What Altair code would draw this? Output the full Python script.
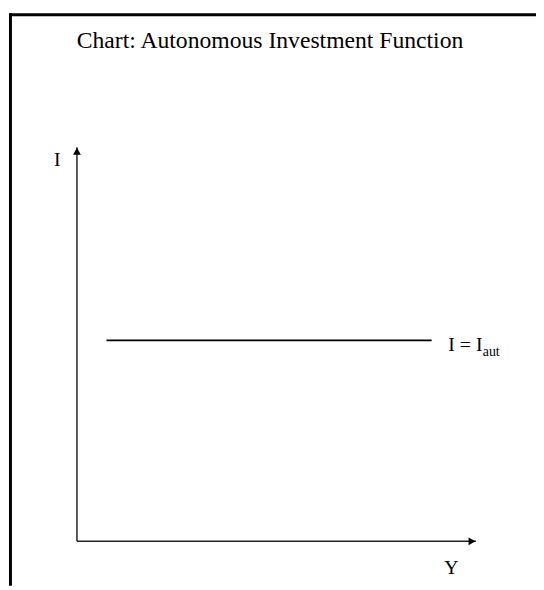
import altair as alt
import pandas as pd

# --- data ---
title_text = "Chart: Autonomous Investment Function"
i_aut = 5.1                     # autonomous investment level
i_line_y_from = 0.74            # horizontal line start (Y)
i_line_y_to = 8.89              # horizontal line end (Y)
axis_x_max = 10
axis_y_max = 10

segments = pd.DataFrame({
    "x":  [0, 0, i_line_y_from],
    "y":  [0, 0, i_aut],
    "x2": [0, axis_x_max, i_line_y_to],
    "y2": [axis_y_max, 0, i_aut],
    "kind": ["axis", "axis", "line"],
})

xs = alt.Scale(domain=[0, 10], range=[70, 475])
ys = alt.Scale(domain=[0, 10], range=[537, 137])
FONT = "Liberation Serif"

axes = alt.Chart(segments[segments.kind == "axis"]).mark_rule(
    color="#222222", strokeWidth=1.5
).encode(
    x=alt.X("x:Q", scale=xs, axis=None),
    y=alt.Y("y:Q", scale=ys, axis=None),
    x2="x2:Q", y2="y2:Q",
)

iline = alt.Chart(segments[segments.kind == "line"]).mark_rule(
    color="black", strokeWidth=2
).encode(
    x=alt.X("x:Q", scale=xs, axis=None),
    y=alt.Y("y:Q", scale=ys, axis=None),
    x2="x2:Q", y2="y2:Q",
)

tip_up = alt.Chart(pd.DataFrame({"x": [0], "y": [axis_y_max]})).mark_point(
    shape="triangle-up", filled=True, color="black", opacity=1, size=64, yOffset=4
).encode(x=alt.X("x:Q", scale=xs, axis=None), y=alt.Y("y:Q", scale=ys, axis=None))

tip_right = alt.Chart(pd.DataFrame({"x": [axis_x_max], "y": [0]})).mark_point(
    shape="triangle-right", filled=True, color="black", opacity=1, size=64, xOffset=-4
).encode(x=alt.X("x:Q", scale=xs, axis=None), y=alt.Y("y:Q", scale=ys, axis=None))

def label(x, y, text, dx, dy, size=20, align="left"):
    return alt.Chart(pd.DataFrame({"x": [x], "y": [y], "t": [text]})).mark_text(
        font=FONT, fontSize=size, color="black", align=align,
        baseline="alphabetic", dx=dx, dy=dy
    ).encode(
        x=alt.X("x:Q", scale=xs, axis=None),
        y=alt.Y("y:Q", scale=ys, axis=None),
        text="t:N",
    )

lab_I = label(0, axis_y_max, "I", -20, 19, align="center")
lab_Y = label(axis_x_max, 0, "Y", -25, 33, align="center")
lab_eq = label(i_line_y_to, i_aut, "I = I", 17, 11)
lab_sub = label(i_line_y_to, i_aut, "aut", 52, 16, size=14)

title = alt.Chart(pd.DataFrame({"t": [title_text]})).mark_text(
    font=FONT, fontSize=24, color="black", align="center", baseline="alphabetic"
).encode(x=alt.value(266), y=alt.value(36), text="t:N")

frame_top = alt.Chart(pd.DataFrame({"a": [0]})).mark_rule(
    color="black", strokeWidth=3
).encode(x=alt.value(1), x2=alt.value(536), y=alt.value(2.5))
frame_left = alt.Chart(pd.DataFrame({"a": [0]})).mark_rule(
    color="black", strokeWidth=3
).encode(x=alt.value(2.5), y=alt.value(1), y2=alt.value(582))

chart = alt.layer(
    frame_top, frame_left, axes, iline, tip_up, tip_right,
    lab_I, lab_Y, lab_eq, lab_sub, title
).properties(
    width=536, height=582, autosize=alt.AutoSizeParams(type="none"), padding=0
).configure_view(stroke=None)

chart.save("out.html", embed_options={"renderer": "svg", "actions": False})
